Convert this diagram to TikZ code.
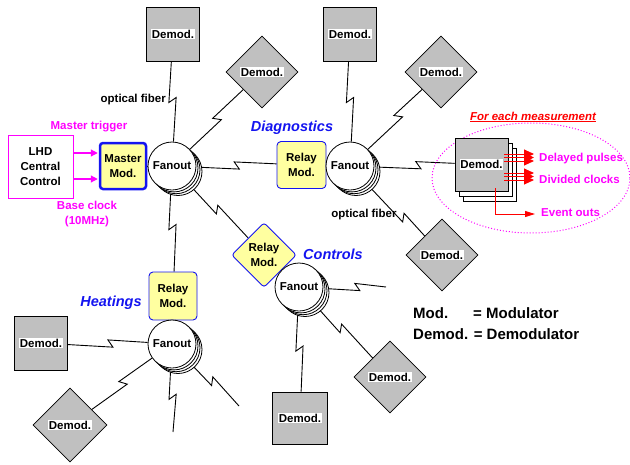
\documentclass[tikz,border=0pt]{standalone}
\usepackage{fontspec}
\setmainfont{Liberation Sans}
\usetikzlibrary{calc,shapes.geometric,arrows.meta}
\definecolor{myyellow}{RGB}{255,255,160}
\definecolor{mygray}{RGB}{192,192,192}
\definecolor{myblue}{RGB}{20,20,240}
\definecolor{mymag}{RGB}{255,0,255}
\pgfdeclarelayer{background}
\pgfsetlayers{background,main}
\newcommand\dmtext{{\setlength\fboxsep{0.8pt}\colorbox{white}{Demod.}}}
\newcommand\fiberline[3]{\draw[fib] (#1) -- ($(#1)!#3!(#2)!4.4pt!-55:(#2)$) -- ($(#1)!#3!(#2)!4.4pt!125:(#2)$) -- (#2);}
\newcommand\fanoutnode[3]{%
  \foreach \dx/\dy in {6/5.5,4/3.7,2/1.9} {\draw[line width=0.8pt,fill=white] (#2+\dx,#3+\dy) circle[radius=24pt];}
  \node[fan] (#1) at (#2,#3) {Fanout};}
\begin{document}
\begin{tikzpicture}[x=1pt,y=-1pt,
  every node/.style={font=\fontsize{11.5}{15}\selectfont\bfseries, align=center, inner sep=0pt},
  fib/.style={line width=0.9pt},
  sqbox/.style={draw, line width=0.8pt, fill=mygray, minimum width=53pt, minimum height=54pt},
  dmbox/.style={draw, diamond, line width=0.8pt, fill=mygray, minimum width=72pt, minimum height=72pt},
  fan/.style={draw, circle, fill=white, line width=0.8pt, minimum size=48pt},
  relay/.style={draw=myblue, fill=myyellow, rounded corners=4pt, line width=0.9pt, minimum width=49pt, minimum height=47pt},
  relayd/.style={draw=myblue, fill=myyellow, diamond, rounded corners=3pt, line width=0.9pt, minimum width=65pt, minimum height=65pt},
  grouplabel/.style={text=myblue, font=\fontsize{14.5}{17}\selectfont\bfseries\itshape},
  maglabel/.style={text=mymag},
  redarrow/.style={red, line width=0.9pt, -{Triangle[length=10pt,width=9pt]}},
  legend/.style={font=\fontsize{15}{18}\selectfont\bfseries, anchor=base west}
]
\useasboundingbox (0,0) rectangle (630,464);

% left control
\node[draw=mymag, line width=0.9pt, minimum width=65pt, minimum height=63pt] (lhd) at (40.5,166.5) {LHD\\Central\\Control};
\node[draw=myblue, fill=myyellow, line width=2.5pt, rounded corners=3pt, minimum width=46pt, minimum height=46pt] (master) at (123,166) {Master\\Mod.};
\draw[mymag, line width=1.2pt, -{Triangle[length=7pt,width=7pt]}] ($(lhd.east)+(0,-13.5)$) -- ($(master.west)+(-1,-13)$);
\draw[mymag, line width=1.2pt, -{Triangle[length=7pt,width=7pt]}] ($(lhd.east)+(0,12.5)$) -- ($(master.west)+(-1,13)$);
\node[maglabel] (mt) at (89,127) {Master trigger};
\node[maglabel] (bc) at (87,214.5) {Base clock\\(10MHz)};

% fanout 1
\fanoutnode{f1}{172}{166}
\node[sqbox] (sq1) at (173,34) {\dmtext};
\node[dmbox] (dm1) at (262,72) {\dmtext};
\node[anchor=east] (of1) at (166,100) {optical fiber};

% diagnostics
\node[relay] (relay1) at (301.5,165) {Relay\\Mod.};
\node[grouplabel] (diag) at (292,128) {Diagnostics};
\fanoutnode{f2}{350}{166}
\node[sqbox] (sq2) at (350,34) {\dmtext};
\node[dmbox] (dm2) at (441,72) {\dmtext};
\node[dmbox] (dm3) at (442,255) {\dmtext};
\node (of2) at (364,215) {optical fiber};

% measurement
\node[draw=mymag, dotted, line width=1pt, ellipse, minimum width=198pt, minimum height=110pt] (ell) at (531,178) {};
\node[text=red, font=\fontsize{11.5}{14}\selectfont\bfseries\itshape] (fem) at (533,117) {\underline{For each measurement}};
\node[draw, line width=0.8pt, fill=white, minimum width=53pt, minimum height=53pt] (back2) at (489.5,174.5) {};
\node[draw, line width=0.8pt, fill=white, minimum width=53pt, minimum height=53pt] (back1) at (485.5,169.5) {};
\node[sqbox, minimum height=53pt] (dstack) at (481.5,164.5) {\dmtext};
\foreach \yy [count=\i] in {154,157.5,161,173,176.5,180} {
  \coordinate (rs\i) at (504,\yy);
  \coordinate (re\i) at (534,\yy);
  \draw[redarrow] (rs\i) -- (re\i);
}
\coordinate (evs) at (495,188);
\coordinate (eve) at (535,214);
\draw[red, line width=0.9pt, -{Triangle[length=10pt,width=6pt]}] (evs) |- (eve);
\node[maglabel, anchor=west] (dp) at (539,159) {Delayed pulses};
\node[maglabel, anchor=west] (dc) at (539,179) {Divided clocks};
\node[maglabel, anchor=west] (eo) at (541,213) {Event outs};

% controls
\node[relayd] (relay2) at (264,255) {Relay\\Mod.};
\node[grouplabel] (ctrl) at (333,254) {Controls};
\fanoutnode{f3}{299}{287}
\node[sqbox, minimum width=55pt, minimum height=52pt] (sq3) at (300,418) {\dmtext};
\node[dmbox] (dm4) at (390,377) {\dmtext};
\coordinate (e1) at (386,287);

% heatings
\node[relay, minimum width=48pt, minimum height=48pt] (relay3) at (173,296) {Relay\\Mod.};
\node[grouplabel] (heat) at (111,303) {Heatings};
\fanoutnode{f4}{172}{344}
\node[sqbox] (sq4) at (41,343) {\dmtext};
\node[dmbox, minimum width=74pt, minimum height=74pt] (dm5) at (70,425) {\dmtext};
\coordinate (e2) at (173,432);
\coordinate (e3) at (239,406);

% legend
\node[legend] (lg1) at (413,318) {Mod.};
\node[legend] (lg2) at (473,318) {= Modulator};
\node[legend] (lg3) at (413,339) {Demod. = Demodulator};

\begin{pgfonlayer}{background}
\draw[fib] (master) -- (f1);
\draw[fib] (relay1) -- (f2);
\draw[fib] (relay2) -- (f3);
\draw[fib] (relay3) -- (f4);
\fiberline{f1}{sq1}{0.5}
\fiberline{f1}{dm1}{0.5}
\fiberline{f1}{relay1}{0.5}
\fiberline{f1}{relay3}{0.47}
\fiberline{f1}{relay2}{0.49}
\fiberline{f2}{sq2}{0.5}
\fiberline{f2}{dm2}{0.53}
\fiberline{f2}{dstack}{0.52}
\fiberline{f2}{dm3}{0.58}
\fiberline{f3}{e1}{0.67}
\fiberline{f3}{sq3}{0.47}
\fiberline{f3}{dm4}{0.46}
\fiberline{f4}{sq4}{0.47}
\fiberline{f4}{dm5}{0.48}
\fiberline{f4}{e2}{0.6}
\fiberline{f4}{e3}{0.6}
\end{pgfonlayer}
\end{tikzpicture}
\end{document}
